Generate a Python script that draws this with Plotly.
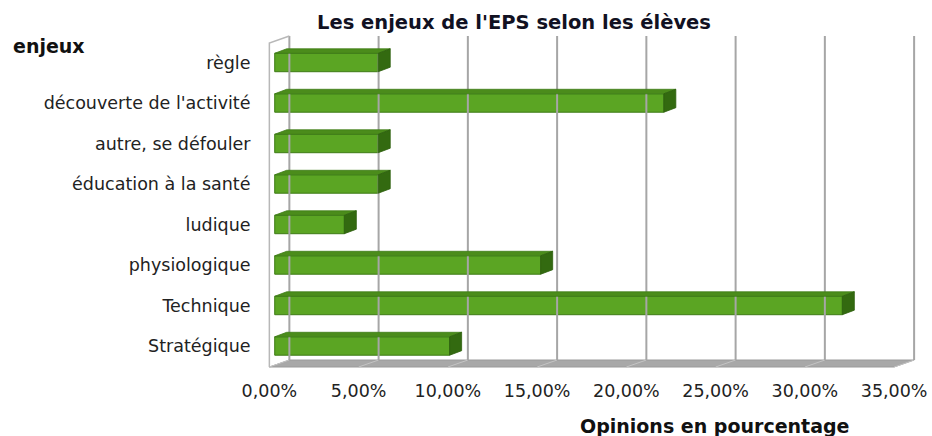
import plotly.graph_objects as go

# ---- data ----
categories = ["règle", "découverte de l'activité", "autre, se défouler",
              "éducation à la santé", "ludique", "physiologique",
              "Technique", "Stratégique"]
values = [5.8, 21.8, 5.8, 5.8, 3.9, 14.9, 31.8, 9.8]
x_tickvals = [0, 5, 10, 15, 20, 25, 30, 35]
x_ticktext = ["0,00%", "5,00%", "10,00%", "15,00%", "20,00%", "25,00%", "30,00%", "35,00%"]
title_text = "Les enjeux de l'EPS selon les élèves"
y_title_text = "enjeux"
x_title_text = "Opinions en pourcentage"

# ---- geometry / style ----
W, H = 932, 436
ML, MR, MT, MB = 264, 9, 30, 64
PX_X = 17.85        # px per percent
PX_Y = 40.5         # px per category
pw = W - ML - MR
ph = H - MT - MB
x0r = -0.3
xr = [x0r, x0r + pw / PX_X]
ytop = (30 - 62.5) / PX_Y
yr = [ytop + ph / PX_Y, ytop]

wall_dx = 20 / PX_X
wall_dy = -7 / PX_Y
top_front = (43 - 62.5) / PX_Y
floor_front = (367 - 62.5) / PX_Y
xmax = x_tickvals[-1]

bar_base = 0.3
bar_h = 0.455
bdx = 12 / PX_X
bdy = -4.5 / PX_Y

FONT = "DejaVu Sans, Liberation Sans, Arial"
idx = list(range(len(categories)))

fig = go.Figure()

# floor
fx = [0, wall_dx, xmax + wall_dx, xmax, 0]
fy = [floor_front, floor_front + wall_dy, floor_front + wall_dy, floor_front, floor_front]
fig.add_trace(go.Scatter(x=fx, y=fy, fill="toself", fillcolor="#a8a8a8",
                         line=dict(color="#9a9a9a", width=1), mode="lines", hoverinfo="skip"))
# floor grid lines
gx, gy = [], []
for v in x_tickvals:
    gx += [v + wall_dx, v, None]
    gy += [floor_front + wall_dy, floor_front, None]
fig.add_trace(go.Scatter(x=gx, y=gy, mode="lines", line=dict(color="#c4c4c4", width=1), hoverinfo="skip"))

# back wall gridlines
gx, gy = [], []
for v in x_tickvals:
    gx += [v + wall_dx, v + wall_dx, None]
    gy += [floor_front + wall_dy, top_front + wall_dy, None]
fig.add_trace(go.Scatter(x=gx, y=gy, mode="lines", line=dict(color="#a6a6a6", width=2), hoverinfo="skip"))

# left wall outline
fig.add_trace(go.Scatter(x=[0, 0, wall_dx], y=[floor_front, top_front, top_front + wall_dy],
                         mode="lines", line=dict(color="#b8b8b8", width=1.5), hoverinfo="skip"))

# bars: front face
fig.add_trace(go.Bar(x=values, y=idx, base=bar_base, orientation="h", width=bar_h,
                     marker=dict(color="#5ba523", line=dict(color="#3e7c16", width=1)),
                     hoverinfo="skip"))
# top and side faces
tx, ty, sx, sy = [], [], [], []
for c, v in zip(idx, values):
    top = c - bar_h / 2
    bot = c + bar_h / 2
    xe = bar_base + v
    tx += [bar_base, xe, xe + bdx, bar_base + bdx, bar_base, None]
    ty += [top, top, top + bdy, top + bdy, top, None]
    sx += [xe, xe + bdx, xe + bdx, xe, xe, None]
    sy += [top, top + bdy, bot + bdy, bot, top, None]
fig.add_trace(go.Scatter(x=tx, y=ty, fill="toself", fillcolor="#4b8c1b", mode="lines",
                         line=dict(color="#3e7c16", width=0.8), hoverinfo="skip"))
fig.add_trace(go.Scatter(x=sx, y=sy, fill="toself", fillcolor="#336a10", mode="lines",
                         line=dict(color="#2d5f0e", width=0.8), hoverinfo="skip"))

def px_to_paper(px, py):
    return (px - ML) / pw, (H - MB - py) / ph

tx_, ty_ = px_to_paper(514, 22)
ex, ey = px_to_paper(49, 46)
ox, oy = px_to_paper(714, 426)

fig.update_layout(
    width=W, height=H,
    margin=dict(l=ML, r=MR, t=MT, b=MB, autoexpand=False),
    paper_bgcolor="white", plot_bgcolor="white",
    showlegend=False,
    font=dict(family=FONT, size=17, color="#111111"),
    annotations=[
        dict(text="<b>" + title_text + "</b>", x=tx_, y=ty_, xref="paper", yref="paper",
             xanchor="center", yanchor="middle", showarrow=False,
             font=dict(family=FONT, size=19.5, color="#111122")),
        dict(text="<b>" + y_title_text + "</b>", x=ex, y=ey, xref="paper", yref="paper",
             xanchor="center", yanchor="middle", showarrow=False,
             font=dict(family=FONT, size=19, color="#111111")),
        dict(text="<b>" + x_title_text + "</b>", x=ox, y=oy, xref="paper", yref="paper",
             xanchor="center", yanchor="middle", showarrow=False,
             font=dict(family=FONT, size=19, color="#111111")),
    ],
)
fig.update_xaxes(range=xr, tickvals=x_tickvals, ticktext=x_ticktext, showgrid=False,
                 zeroline=False, showline=False, ticks="outside", ticklen=3,
                 tickcolor="rgba(0,0,0,0)", automargin=False,
                 tickfont=dict(family=FONT, size=17.5, color="#222222"))
fig.update_yaxes(range=yr, tickvals=idx, ticktext=categories, showgrid=False,
                 zeroline=False, showline=False, ticks="outside", ticklen=9,
                 tickcolor="rgba(0,0,0,0)", automargin=False,
                 tickfont=dict(family=FONT, size=17.5, color="#222222"))

fig.write_html("out.html", config={"displayModeBar": False},
               post_script="document.body.style.margin='0';document.body.style.padding='0';")
